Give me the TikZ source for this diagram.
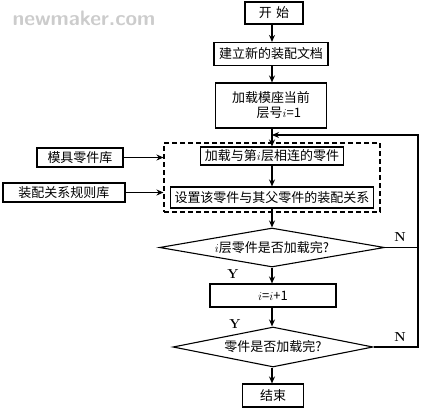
\documentclass[tikz,border=0pt]{standalone}
\usepackage{fontspec}
\newfontfamily\cjk{Noto Sans CJK SC}
\usetikzlibrary{shapes.geometric,arrows.meta}
\begin{document}
\begin{tikzpicture}[x=1pt,y=-1pt,
  box/.style={draw,line width=1.1pt,rectangle,inner sep=0pt,font=\cjk\fontsize{13}{15}\selectfont,align=center},
  dia/.style={draw,line width=1.1pt,diamond,inner sep=0pt,font=\cjk\fontsize{13}{15}\selectfont},
  arr/.style={line width=1.1pt,-{Stealth[length=7pt,width=6pt]}},
  ln/.style={line width=1.1pt},
  lab/.style={font=\fontsize{13}{15}\selectfont\bfseries}]
\useasboundingbox (0,0) rectangle (424,410);
\node[font=\sffamily\bfseries\fontsize{21}{23}\selectfont,text=gray!40] (wm) at (84,18) {newmaker.com};
\node[box,minimum width=58,minimum height=22] (start) at (274,13) {开\,\,始};
\node[box,minimum width=114,minimum height=23] (new) at (271,54) {建立新的装配文档};
\node[box,minimum width=111,minimum height=45] (load) at (271,105.5) {加载模座当前\\\hspace*{1.2em}层号$i$=1};
\node[draw,dash pattern=on 5pt off 3pt,line width=1.1pt,minimum width=216,minimum height=69,inner sep=0pt] (grp) at (272,177.5) {};
\node[box,minimum width=143,minimum height=18] (li) at (272,156) {加载与第$i$层相连的零件};
\node[box,minimum width=203,minimum height=21] (set) at (272,197.5) {设置该零件与其父零件的装配关系};
\node[box,minimum width=86,minimum height=19] (lib1) at (80,157.5) {模具零件库};
\node[box,minimum width=122,minimum height=19] (lib2) at (64,192.5) {装配关系规则库};
\node[dia,minimum width=225,minimum height=39,aspect=5.8] (d1) at (272,247.5) {$i$层零件是否加载完?};
\node[box,minimum width=126,minimum height=23] (inc) at (273,295.5) {$i$=$i$+1};
\node[dia,minimum width=200,minimum height=40,aspect=5] (d2) at (273,347) {零件是否加载完?};
\node[box,minimum width=61,minimum height=23] (end) at (273,395.5) {结束};
\node[lab] (y1) at (233,274) {Y};
\node[lab] (y2) at (235,324) {Y};
\node[lab] (n1) at (400,237) {N};
\node[lab] (n2) at (400,337) {N};
\coordinate (rt) at (418,135);
\coordinate (join) at (272,135);
\coordinate (r1) at (418,247.5);
\coordinate (r2) at (418,347);
\draw[arr] (start.south -| 272,0) -- (new.north -| 272,0);
\draw[arr] (new.south -| 272,0) -- (load.north -| 272,0);
\draw[arr] (load.south -| 272,0) -- (li.north);
\draw[arr] (li.south) -- (set.north);
\draw[arr] (set.south) -- (d1.north);
\draw[arr] (d1.south) -- (inc.north -| d1.south);
\draw[arr] (inc.south -| d1.south) -- (d2.north -| d1.south);
\draw[arr] (d2.south -| d1.south) -- (end.north -| d1.south);
\draw[arr] (lib1.east) -- (lib1.east -| grp.west);
\draw[arr] (lib2.east) -- (lib2.east -| grp.west);
\draw[ln] (d1.east) -- (r1);
\draw[arr] (d2.east) -- (r2) -- (rt) -- (join);
\end{tikzpicture}
\end{document}
